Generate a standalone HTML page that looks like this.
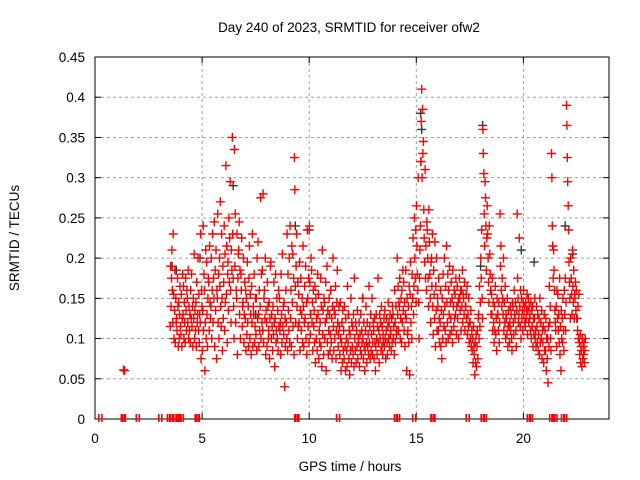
<!DOCTYPE html>
<html><head><meta charset="utf-8"><style>
html,body{margin:0;padding:0;background:#fff;}
svg{display:block;font-family:"Liberation Sans",sans-serif;}
</style></head><body>
<svg id="chart" width="640" height="480" viewBox="0 0 640 480" xmlns="http://www.w3.org/2000/svg">
<rect width="640" height="480" fill="#fff"/>
<text x="349" y="32" font-size="13.5" text-anchor="middle">Day 240 of 2023, SRMTID for receiver ofw2</text>
<text x="350" y="471" font-size="13.5" text-anchor="middle">GPS time / hours</text>
<text transform="translate(19,238) rotate(-90)" font-size="13.5" text-anchor="middle">SRMTID / TECUs</text>
<g id="grid"></g>
<g id="ticks"></g>
<clipPath id="clip"><rect x="95" y="57" width="514" height="362"/></clipPath>
<g id="marks" clip-path="url(#clip)"></g>
<rect x="95" y="57" width="514" height="362" fill="none" stroke="#000" stroke-width="1"/>
<g id="zeromarks"></g>
</svg>
<script>
const xTicks=[0,5,10,15,20];
const yTicks=[0,0.05,0.1,0.15,0.2,0.25,0.3,0.35,0.4,0.45];
const yTickLabels=["0","0.05","0.1","0.15","0.2","0.25","0.3","0.35","0.4","0.45"];
const binStart=3.5;
const binWidth=0.1;
const redBins=[
[115,190,140,175,210],[160,120,230,155,100],[135,185,95,150,120],[125,110,175,140,90],[145,100,130,165,115],
[105,155,90,125,180],[130,165,100,145,120],[95,175,135,110,160],[150,120,185,100,140],[110,130,95,160,125],
[180,115,140,90,150],[125,205,100,135,110],[145,90,170,120,130],[200,110,155,95,130],[120,230,75,160,140],
[85,135,240,110,180],[160,60,120,210,100],[195,130,90,150,175],[170,110,215,145,125],[140,200,100,160,230],
[120,175,150,245,90],[185,135,210,75,160],[150,255,120,180,100],[200,165,270,140,115],[230,150,85,190,125],
[170,240,110,205,145],[315,155,215,95,180],[195,135,250,170,225],[295,160,120,210,185],[350,230,175,140,100],
[335,190,255,120,160],[150,230,80,175,205],[210,245,130,185,100],[180,160,225,115,140],[145,200,95,130,170],
[125,160,85,150,105],[195,120,140,90,175],[215,100,155,130,80],[165,120,230,90,140],[130,180,95,115,150],
[105,150,85,200,125],[220,130,90,160,110],[140,275,100,180,120],[185,110,280,95,150],[160,125,200,80,135],
[120,90,170,140,100],[110,145,75,125,190],[195,100,130,115,85],[140,105,170,120,65],[125,180,95,110,150],
[100,135,85,160,115],[150,110,120,80,180],[130,95,205,115,140],[105,145,40,125,90],[160,120,100,230,85],
[180,135,110,200,95],[240,125,160,90,215],[145,205,115,175,80],[325,285,165,120,190],[230,140,100,170,115],
[155,120,195,85,135],[175,110,130,150,95],[215,140,90,120,165],[125,190,100,145,80],[235,150,115,175,95],
[240,170,105,130,200],[185,120,145,85,160],[115,135,95,165,70],[150,100,125,85,180],[130,155,75,110,95],
[120,175,90,140,65],[210,105,135,80,150],[145,100,120,170,60],[125,190,95,135,80],[110,150,130,85,105],
[160,95,125,75,140],[200,115,85,135,100],[130,165,75,110,145],[185,120,90,105,140],[115,80,145,100,60],
[95,120,70,135,85],[110,75,140,90,60],[125,100,85,65,165],[95,130,75,110,55],[105,85,150,70,120],
[90,115,80,130,65],[175,100,85,120,70],[110,90,135,75,100],[95,120,65,105,85],[130,80,110,95,150],
[100,75,120,90,60],[85,110,140,95,70],[120,90,105,80,165],[95,115,75,130,85],[105,150,80,95,120],
[110,75,125,95,60],[90,130,100,80,115],[175,95,110,70,130],[100,120,85,140,90],[115,80,105,95,125],
[90,135,100,75,110],[125,95,80,115,145],[100,120,90,130,105],[110,85,125,95,140],[130,100,115,80,160],
[120,95,140,105,110],[200,130,165,110,145],[140,175,100,125,150],[95,160,120,185,135],[170,110,145,90,130],
[185,125,60,150,105],[110,140,95,165,55],[155,195,120,140,100],[180,150,225,130,165],[250,200,175,235,145],
[265,215,180,160,300],[145,100,175,210,240],[320,370,410,300,385],[330,345,260,225,195],[310,175,215,160,245],
[235,200,175,140,260],[220,180,150,120,195],[200,165,230,140,105],[185,155,125,220,90],[165,135,200,110,150],
[140,110,175,125,95],[120,160,90,135,75],[150,100,180,130,115],[200,140,110,165,95],[215,145,120,180,100],
[160,130,190,105,145],[125,170,110,150,95],[185,140,115,160,125],[155,130,175,105,140],[165,125,145,100,150],
[175,150,135,160,110],[160,140,185,120,155],[150,130,170,110,140],[140,155,125,165,105],[130,115,150,95,120],
[120,100,135,90,110],[85,100,70,115,90],[80,55,95,70,105],[65,90,110,75,125],[130,100,165,115,145],
[200,175,235,150,125],[360,330,305,255,215],[295,275,240,185,225],[265,230,200,170,145],[240,205,180,160,130],
[155,130,175,110,145],[120,95,140,110,165],[105,125,85,150,130],[130,110,145,95,120],[255,190,215,160,140],
[175,150,130,200,110],[145,120,165,100,130],[125,105,150,90,115],[135,115,95,120,140],[110,130,100,85,145],
[140,120,105,160,130],[125,145,110,90,135],[255,175,150,120,130],[225,140,115,160,100],[150,125,135,110,145],
[160,130,140,120,115],[145,125,135,155,105],[135,150,120,140,125],[130,110,145,100,135],[115,140,90,125,105],
[125,150,100,110,90],[140,115,95,130,85],[105,125,80,150,95],[120,100,135,75,110],[95,115,70,130,85],
[110,85,125,60,100],[75,100,45,115,90],[165,120,140,100,85],[330,300,240,215,175],[210,185,160,135,120],
[110,140,90,160,125],[155,110,130,95,175],[80,115,60,135,100],[125,95,150,110,85],[160,130,175,110,145],
[390,365,325,295,265],[235,195,170,150,125],[200,175,155,130,210],[165,145,185,125,155],[150,170,135,160,125],
[125,110,140,100,155],[95,80,105,70,90],[85,65,100,75,90],[80,95,70,85,100]
];
const isolatedTimes=[1.33,1.38];
const isolatedValues=[0.061,0.06];
const zeroTimes=[0.25,1.3,1.35,2.0,3.05,3.45,3.55,3.75,3.85,3.95,4.05,4.75,4.8,9.4,9.45,11.35,14.05,14.15,14.9,15.75,15.8,17.4,18.1,18.2,20.25,20.35,21.3,21.4,21.5,21.85,21.95];
const blackTimes=[3.6,3.8,4.9,6.45,7.5,9.35,10.0,11.0,12.5,15.2,15.25,15.22,18.1,18.0,19.9,20.5,21.95,22.3];
const blackValues=[0.19,0.185,0.2,0.29,0.13,0.24,0.235,0.16,0.15,0.38,0.36,0.32,0.365,0.19,0.21,0.195,0.24,0.205];

const X0=95,XS=21.42,Y0=419,YS=362/0.45;
function sx(t){return X0+t*XS;}
function sy(v){return Y0-v*YS;}
const NS="http://www.w3.org/2000/svg";
const grid=document.getElementById('grid'),ticks=document.getElementById('ticks'),marks=document.getElementById('marks'),zeroG=document.getElementById('zeromarks');
function mk(tag,attrs,parent){const e=document.createElementNS(NS,tag);for(const k in attrs)e.setAttribute(k,attrs[k]);parent.appendChild(e);return e;}
xTicks.forEach((t,i)=>{
  const x=sx(t);
  if(t>0){const g=mk('line',{x1:x,y1:57,x2:x,y2:419,stroke:'#a0a0a0','stroke-dasharray':'3,3'},grid);
  
  }
  mk('line',{x1:x,y1:419,x2:x,y2:413,stroke:'#000'},ticks);
  mk('line',{x1:x,y1:57,x2:x,y2:63,stroke:'#000'},ticks);
  const l=mk('text',{x:x,y:443,'font-size':'13.5','text-anchor':'middle'},ticks);
  l.textContent=String(t);
  
  
});
yTicks.forEach((v,i)=>{
  const y=sy(v);
  if(v>0&&v<0.45){const g=mk('line',{x1:95,y1:y,x2:609,y2:y,stroke:'#a0a0a0','stroke-dasharray':'3,3'},grid);
  
  }
  mk('line',{x1:95,y1:y,x2:101,y2:y,stroke:'#000'},ticks);
  mk('line',{x1:609,y1:y,x2:603,y2:y,stroke:'#000'},ticks);
  const l=mk('text',{x:85,y:y+5,'font-size':'13.5','text-anchor':'end'},ticks);
  l.textContent=yTickLabels[i];
  
  
});
function plus(t,v,color,parent){
  const x=sx(t),y=sy(v);
  const p=mk('path',{d:`M${(x-4.5).toFixed(1)} ${y.toFixed(1)}h9M${x.toFixed(1)} ${(y-4.5).toFixed(1)}v9`,stroke:color,'stroke-width':'1.4',fill:'none'},parent);
  
  
}
blackTimes.forEach((t,i)=>plus(t,blackValues[i],'#333',marks));
redBins.forEach((bin,i)=>{
  bin.forEach((v,k)=>{
    const t=binStart+i*binWidth+binWidth*(k+0.5)/bin.length;
    plus(t,v/1000,'#ff0000',marks);
  });
});
isolatedTimes.forEach((t,i)=>plus(t,isolatedValues[i],'#ff0000',marks));
zeroTimes.forEach(t=>{
  const x=sx(t);
  const p=mk('path',{d:`M${(x-1.5).toFixed(1)} 414v8M${(x+1.5).toFixed(1)} 414v8`,stroke:'#ff0000','stroke-width':'1.6',fill:'none'},zeroG);
  
  
});
</script>
</body></html>
